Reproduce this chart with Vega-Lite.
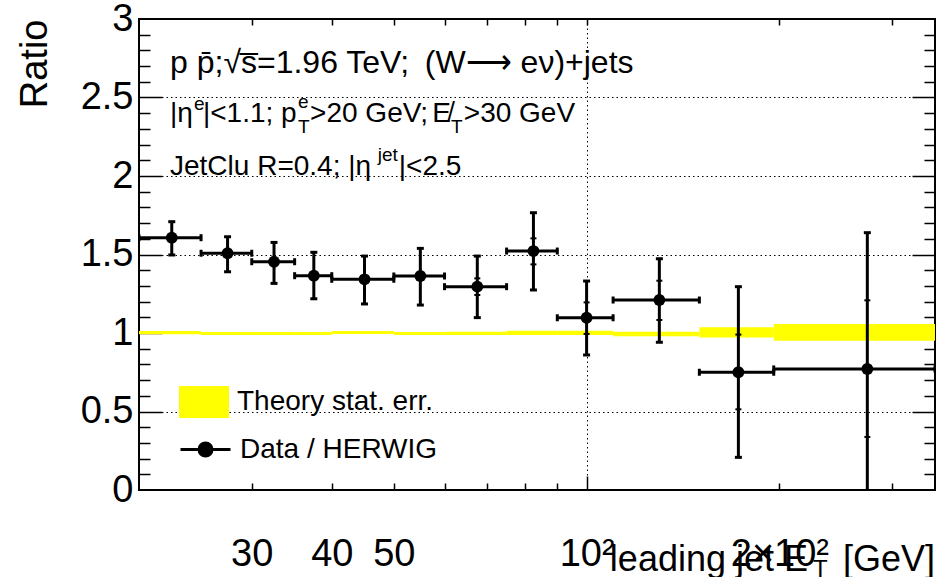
{
  "$schema": "https://vega.github.io/schema/vega-lite/v6.json",
  "width": 796,
  "height": 471,
  "autosize": {"type": "none"},
  "padding": {"left": 139, "top": 19, "right": 4, "bottom": 87},
  "background": "white",
  "config": {
    "view": {"stroke": "black", "strokeWidth": 2},
    "font": "Liberation Sans",
    "axis": {"domain": false, "grid": false, "labels": false, "ticks": false, "tickColor": "black", "tickWidth": 1.5, "labelColor": "black", "labelFont": "Liberation Sans", "labelFontSize": 38, "zindex": 1, "gridColor": "black", "gridDash": [1.5, 3], "gridWidth": 1, "gridOpacity": 1},
    "legend": {"orient": "none", "padding": 0, "labelFont": "Liberation Sans", "labelFontSize": 28, "labelColor": "black", "labelLimit": 0, "symbolOpacity": 1},
    "text": {"font": "Liberation Sans", "color": "black"}
  },
  "data": {"values": [
    {"x": 22.5, "lo": 20, "hi": 25, "r": 1.607, "elo": 1.497, "ehi": 1.709, "tlo": 0.992, "thi": 1.012},
    {"x": 27.5, "lo": 25, "hi": 30, "r": 1.508, "elo": 1.39, "ehi": 1.613, "tlo": 0.987, "thi": 1.006},
    {"x": 32.5, "lo": 30, "hi": 35, "r": 1.454, "elo": 1.316, "ehi": 1.577, "tlo": 0.987, "thi": 1.006},
    {"x": 37.5, "lo": 35, "hi": 40, "r": 1.365, "elo": 1.218, "ehi": 1.514, "tlo": 0.987, "thi": 1.006},
    {"x": 45.0, "lo": 40, "hi": 50, "r": 1.342, "elo": 1.185, "ehi": 1.49, "tlo": 0.994, "thi": 1.013},
    {"x": 55.0, "lo": 50, "hi": 60, "r": 1.363, "elo": 1.178, "ehi": 1.539, "tlo": 0.987, "thi": 1.006},
    {"x": 67.5, "lo": 60, "hi": 75, "r": 1.295, "elo": 1.098, "ehi": 1.49, "slo": 1.242, "shi": 1.348, "tlo": 0.987, "thi": 1.008},
    {"x": 82.6, "lo": 75, "hi": 90, "r": 1.522, "elo": 1.274, "ehi": 1.766, "slo": 1.437, "shi": 1.603, "tlo": 0.987, "thi": 1.015},
    {"x": 100, "lo": 90, "hi": 110, "r": 1.097, "elo": 0.86, "ehi": 1.331, "slo": 0.994, "shi": 1.195, "tlo": 0.987, "thi": 1.015},
    {"x": 129.9, "lo": 110, "hi": 150, "r": 1.21, "elo": 0.941, "ehi": 1.473, "slo": 1.083, "shi": 1.333, "tlo": 0.98, "thi": 1.008},
    {"x": 172.6, "lo": 150, "hi": 196, "r": 0.75, "elo": 0.208, "ehi": 1.295, "slo": 0.514, "shi": 0.99, "tlo": 0.972, "thi": 1.036},
    {"x": 274.4, "lo": 196, "hi": 350, "r": 0.771, "elo": -0.097, "ehi": 1.639, "slo": 0.338, "shi": 1.208, "tlo": 0.951, "thi": 1.057}
  ]},
  "resolve": {"axis": {"x": "independent", "y": "independent"}},
  "layer": [
    {
      "mark": {"type": "rect", "clip": true, "strokeWidth": 0},
      "encoding": {
        "x": {"field": "lo", "type": "quantitative", "scale": {"type": "log", "domain": [20, 350], "nice": false},
              "axis": {"orient": "bottom", "grid": true, "values": [100], "title": null, "zindex": 0}},
        "x2": {"field": "hi"},
        "y": {"field": "tlo", "type": "quantitative", "scale": {"domain": [0, 3], "nice": false, "zero": false},
              "axis": {"orient": "left", "grid": true, "values": [0.5, 1, 1.5, 2, 2.5], "title": null, "zindex": 0}},
        "y2": {"field": "thi"},
        "fill": {"datum": "Theory stat. err.", "type": "nominal", "scale": {"range": ["#ffff00"]},
                 "legend": {"title": null, "orient": "none", "legendX": 40, "legendY": 358, "symbolType": "M-1,-0.64H1V0.64H-1Z", "symbolSize": 2500, "symbolStrokeWidth": 0, "labelOffset": 8}}
      }
    },
    {
      "mark": {"type": "rule", "color": "black", "strokeWidth": 3, "clip": true},
      "encoding": {
        "x": {"field": "lo", "type": "quantitative",
              "axis": {"orient": "bottom", "labels": true, "values": [30, 40, 50, 100, 200], "labelExpr": "datum.value == 100 ? '10²' : datum.value == 200 ? '2×10²' : format(datum.value, 'd')", "labelPadding": 45, "labelBaseline": "top", "labelOverlap": false, "labelFlush": false, "title": null}},
        "x2": {"field": "hi"},
        "y": {"field": "r", "type": "quantitative",
              "axis": {"orient": "left", "labels": true, "values": [0, 0.5, 1, 1.5, 2, 2.5, 3], "format": "~g", "labelPadding": 6, "labelOverlap": false, "labelFlush": false,
                       "title": "Ratio", "titleFont": "Liberation Sans", "titleFontSize": 38, "titleFontWeight": "normal", "titleColor": "black", "titleAngle": -90, "titleX": -93, "titleY": 0, "titleAlign": "right", "titleBaseline": "alphabetic"}}
      }
    },
    {
      "mark": {"type": "rule", "color": "black", "strokeWidth": 3, "clip": true},
      "encoding": {
        "x": {"field": "x", "type": "quantitative",
              "axis": {"orient": "bottom", "ticks": true, "tickSize": -7, "values": [30, 40, 50, 60, 70, 80, 90, 200, 300], "title": null}},
        "y": {"field": "elo", "type": "quantitative",
              "axis": {"orient": "left", "ticks": true, "tickSize": -11, "values": [0.1, 0.2, 0.3, 0.4, 0.6, 0.7, 0.8, 0.9, 1.1, 1.2, 1.3, 1.4, 1.6, 1.7, 1.8, 1.9, 2.1, 2.2, 2.3, 2.4, 2.6, 2.7, 2.8, 2.9], "title": null}},
        "y2": {"field": "ehi"}
      }
    },
    {
      "transform": [{"fold": ["elo", "ehi"], "as": ["k", "v"]}],
      "mark": {"type": "tick", "orient": "horizontal", "color": "black", "size": 7, "thickness": 3, "opacity": 1, "clip": true},
      "encoding": {
        "x": {"field": "x", "type": "quantitative",
              "axis": {"orient": "bottom", "ticks": true, "tickSize": -14, "values": [100], "title": null}},
        "y": {"field": "v", "type": "quantitative",
              "axis": {"orient": "left", "ticks": true, "tickSize": -23, "values": [0.5, 1, 1.5, 2, 2.5], "title": null}}
      }
    },
    {
      "transform": [{"fold": ["lo", "hi"], "as": ["k", "v"]}],
      "mark": {"type": "tick", "orient": "vertical", "color": "black", "size": 7, "thickness": 3, "opacity": 1, "clip": true},
      "encoding": {
        "x": {"field": "v", "type": "quantitative",
              "axis": {"orient": "top", "ticks": true, "tickSize": -6, "values": [30, 40, 50, 60, 70, 80, 90, 100, 200, 300], "title": null}},
        "y": {"field": "r", "type": "quantitative",
              "axis": {"orient": "right", "ticks": true, "tickSize": -11, "values": [0.1, 0.2, 0.3, 0.4, 0.6, 0.7, 0.8, 0.9, 1.1, 1.2, 1.3, 1.4, 1.6, 1.7, 1.8, 1.9, 2.1, 2.2, 2.3, 2.4, 2.6, 2.7, 2.8, 2.9], "title": null}}
      }
    },
    {
      "transform": [{"fold": ["slo", "shi"], "as": ["k2", "v2"]}, {"filter": "isValid(datum.v2)"}],
      "mark": {"type": "tick", "orient": "horizontal", "color": "black", "size": 6, "thickness": 2, "opacity": 1, "clip": true},
      "encoding": {
        "x": {"field": "x", "type": "quantitative", "axis": null},
        "y": {"field": "v2", "type": "quantitative",
              "axis": {"orient": "right", "ticks": true, "tickSize": -23, "values": [0.5, 1, 1.5, 2, 2.5], "title": null}}
      }
    },
    {
      "mark": {"type": "point", "shape": "circle", "filled": true, "size": 140, "opacity": 1, "clip": true},
      "encoding": {
        "x": {"field": "x", "type": "quantitative", "axis": null},
        "y": {"field": "r", "type": "quantitative", "axis": null},
        "color": {"datum": "Data / HERWIG", "type": "nominal", "scale": {"range": ["black"]},
                  "legend": {"title": null, "orient": "none", "legendX": 40, "legendY": 404, "symbolType": "M-1,0H1M-0.26,0A0.26,0.26,0,1,1,0.26,0A0.26,0.26,0,1,1,-0.26,0Z", "symbolSize": 2500, "symbolStrokeWidth": 3, "symbolStrokeColor": "black", "symbolFillColor": "black", "labelOffset": 8,
                             "encode": {"symbols": {"update": {"stroke": {"value": "black"}, "strokeWidth": {"value": 3}, "fill": {"value": "black"}}}}}}
      }
    },
    {
      "data": {"values": [{}]},
      "mark": {"type": "text", "align": "left", "baseline": "alphabetic", "fontSize": 32, "text": "p p̄;√s̅=1.96 TeV;"},
      "encoding": {"x": {"datum": 22.36, "type": "quantitative", "axis": null}, "y": {"datum": 2.656, "type": "quantitative", "axis": null}}
    },
    {
      "data": {"values": [{}]},
      "mark": {"type": "text", "align": "left", "baseline": "alphabetic", "fontSize": 32, "text": "(W⟶ eν)+jets"},
      "encoding": {"x": {"datum": 55.9, "type": "quantitative", "axis": null}, "y": {"datum": 2.656, "type": "quantitative", "axis": null}}
    },
    {
      "data": {"values": [{}]},
      "mark": {"type": "text", "align": "left", "baseline": "alphabetic", "fontSize": 28, "text": "|η"},
      "encoding": {"x": {"datum": 22.36, "type": "quantitative", "axis": null}, "y": {"datum": 2.344, "type": "quantitative", "axis": null}}
    },
    {
      "data": {"values": [{}]},
      "mark": {"type": "text", "align": "left", "baseline": "alphabetic", "fontSize": 19, "text": "e"},
      "encoding": {"x": {"datum": 24.37, "type": "quantitative", "axis": null}, "y": {"datum": 2.42, "type": "quantitative", "axis": null}}
    },
    {
      "data": {"values": [{}]},
      "mark": {"type": "text", "align": "left", "baseline": "alphabetic", "fontSize": 28, "text": "|<1.1; p"},
      "encoding": {"x": {"datum": 25.17, "type": "quantitative", "axis": null}, "y": {"datum": 2.344, "type": "quantitative", "axis": null}}
    },
    {
      "data": {"values": [{}]},
      "mark": {"type": "text", "align": "left", "baseline": "alphabetic", "fontSize": 19, "text": "e"},
      "encoding": {"x": {"datum": 35.42, "type": "quantitative", "axis": null}, "y": {"datum": 2.43, "type": "quantitative", "axis": null}}
    },
    {
      "data": {"values": [{}]},
      "mark": {"type": "text", "align": "left", "baseline": "alphabetic", "fontSize": 19, "text": "T"},
      "encoding": {"x": {"datum": 35.42, "type": "quantitative", "axis": null}, "y": {"datum": 2.275, "type": "quantitative", "axis": null}}
    },
    {
      "data": {"values": [{}]},
      "mark": {"type": "text", "align": "left", "baseline": "alphabetic", "fontSize": 28, "text": ">20 GeV;"},
      "encoding": {"x": {"datum": 37.0, "type": "quantitative", "axis": null}, "y": {"datum": 2.344, "type": "quantitative", "axis": null}}
    },
    {
      "data": {"values": [{}]},
      "mark": {"type": "text", "align": "left", "baseline": "alphabetic", "fontSize": 28, "text": "E̸"},
      "encoding": {"x": {"datum": 57.4, "type": "quantitative", "axis": null}, "y": {"datum": 2.344, "type": "quantitative", "axis": null}}
    },
    {
      "data": {"values": [{}]},
      "mark": {"type": "text", "align": "left", "baseline": "alphabetic", "fontSize": 19, "text": "T"},
      "encoding": {"x": {"datum": 61.4, "type": "quantitative", "axis": null}, "y": {"datum": 2.275, "type": "quantitative", "axis": null}}
    },
    {
      "data": {"values": [{}]},
      "mark": {"type": "text", "align": "left", "baseline": "alphabetic", "fontSize": 28, "text": ">30 GeV"},
      "encoding": {"x": {"datum": 64.3, "type": "quantitative", "axis": null}, "y": {"datum": 2.344, "type": "quantitative", "axis": null}}
    },
    {
      "data": {"values": [{}]},
      "mark": {"type": "text", "align": "left", "baseline": "alphabetic", "fontSize": 28, "text": "JetClu R=0.4; |η"},
      "encoding": {"x": {"datum": 22.36, "type": "quantitative", "axis": null}, "y": {"datum": 2.006, "type": "quantitative", "axis": null}}
    },
    {
      "data": {"values": [{}]},
      "mark": {"type": "text", "align": "left", "baseline": "alphabetic", "fontSize": 19, "text": "jet"},
      "encoding": {"x": {"datum": 47.2, "type": "quantitative", "axis": null}, "y": {"datum": 2.095, "type": "quantitative", "axis": null}}
    },
    {
      "data": {"values": [{}]},
      "mark": {"type": "text", "align": "left", "baseline": "alphabetic", "fontSize": 28, "text": "|<2.5"},
      "encoding": {"x": {"datum": 50.9, "type": "quantitative", "axis": null}, "y": {"datum": 2.006, "type": "quantitative", "axis": null}}
    },
    {
      "data": {"values": [{}]},
      "mark": {"type": "text", "align": "right", "baseline": "alphabetic", "fontSize": 36, "text": "leading jet E"},
      "encoding": {"x": {"datum": 221.7, "type": "quantitative", "axis": null}, "y": {"datum": -0.513, "type": "quantitative", "axis": null}}
    },
    {
      "data": {"values": [{}]},
      "mark": {"type": "text", "align": "left", "baseline": "alphabetic", "fontSize": 24, "text": "T"},
      "encoding": {"x": {"datum": 225.7, "type": "quantitative", "axis": null}, "y": {"datum": -0.555, "type": "quantitative", "axis": null}}
    },
    {
      "data": {"values": [{}]},
      "mark": {"type": "text", "align": "right", "baseline": "alphabetic", "fontSize": 36, "text": "[GeV]"},
      "encoding": {"x": {"datum": 350, "type": "quantitative", "axis": null}, "y": {"datum": -0.513, "type": "quantitative", "axis": null}}
    }
  ]
}
